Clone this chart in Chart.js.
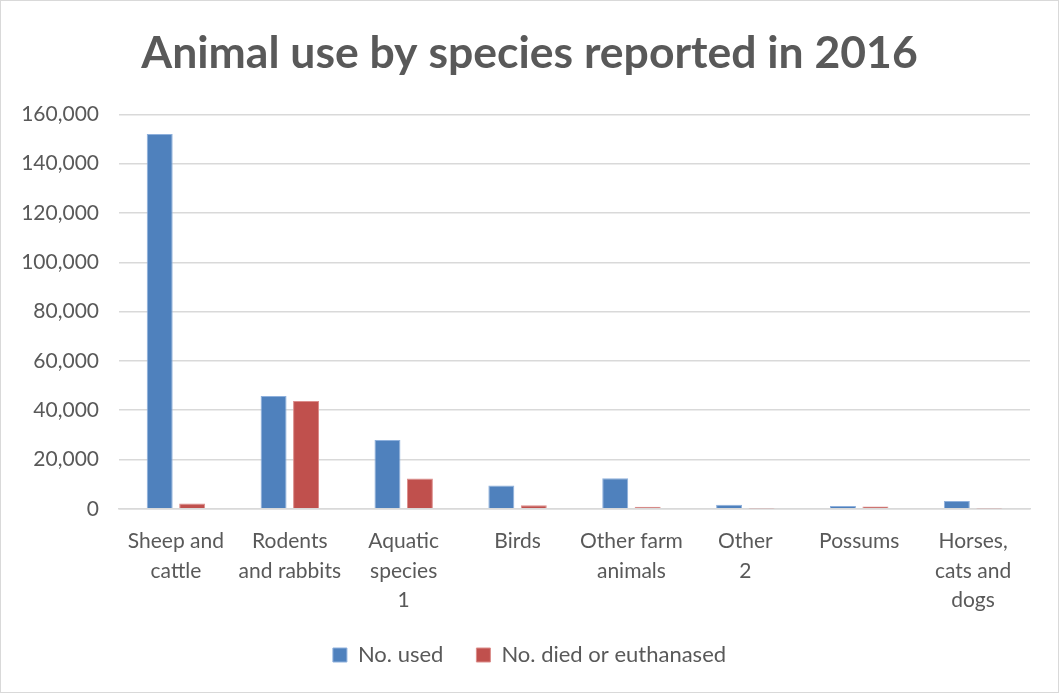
<!DOCTYPE html>
<html>
<head>
<meta charset="utf-8">
<script src="https://cdn.jsdelivr.net/npm/chart.js@4"></script>
<style>
  html, body { margin: 0; padding: 0; background: #fff; }
  #wrap { position: relative; width: 1059px; height: 693px; box-sizing: border-box; border: 1px solid #d9d9d9; }
  canvas { display: block; }
</style>
</head>
<body>
<div id="wrap"><canvas id="c"></canvas></div>
<script>
const categories = [
  ["Sheep and", "cattle"],
  ["Rodents", "and rabbits"],
  ["Aquatic", "species", "1"],
  ["Birds"],
  ["Other farm", "animals"],
  ["Other", "2"],
  ["Possums"],
  ["Horses,", "cats and", "dogs"]
];
const seriesNames = ["No. used", "No. died or euthanased"];
const used = [152000, 45800, 27900, 9500, 12400, 1600, 1100, 3200];
const died = [2200, 43700, 12300, 1400, 800, 150, 900, 150];
const yTicks = { min: 0, max: 160000, step: 20000 };

const FONT = "Lato, 'Open Sans', sans-serif";
const GRAY = "#595959";

// Legend: wide horizontal gap between items without extra vertical space
const LEGEND_PAD = 33, LEGEND_VPAD = 11;
const legendSpacing = {
  id: "legendSpacing",
  afterInit(chart) {
    const lg = chart.legend;
    if (!lg) return;
    const fit = lg.fit.bind(lg);
    lg.fit = function () { fit(); this.height -= (LEGEND_PAD - LEGEND_VPAD); };
  },
  afterLayout(chart) {
    const lg = chart.legend;
    if (!lg) return;
    lg.top -= (LEGEND_PAD - LEGEND_VPAD);
  }
};

new Chart(document.getElementById("c"), {
  type: "bar",
  data: {
    labels: categories,
    datasets: [
      { label: seriesNames[0], data: used, backgroundColor: "#4F81BD", borderColor: "#8EB0DC", borderWidth: 1, categoryPercentage: 0.57, barPercentage: 0.8 },
      { label: seriesNames[1], data: died, backgroundColor: "#C0504D", borderColor: "#DC8D8B", borderWidth: 1, categoryPercentage: 0.57, barPercentage: 0.8 }
    ]
  },
  plugins: [legendSpacing],
  options: {
    responsive: true,
    maintainAspectRatio: false,
    animation: false,
    layout: { padding: { top: 26, right: 6, bottom: 16, left: 6 } },
    plugins: {
      title: {
        display: true,
        text: "Animal use by species reported in 2016",
        color: GRAY,
        font: { family: FONT, size: 44.5, weight: "bold" },
        padding: { top: 0, bottom: 34 }
      },
      legend: {
        position: "bottom",
        labels: {
          color: GRAY,
          font: { family: FONT, size: 22 },
          boxWidth: 14,
          boxHeight: 14,
          padding: LEGEND_PAD
        }
      },
      tooltip: { enabled: false }
    },
    scales: {
      x: {
        grid: { display: false, drawTicks: false },
        border: { display: true, color: "#d9d9d9", width: 1.5 },
        ticks: {
          color: GRAY,
          font: { family: FONT, size: 21, lineHeight: 1.4 },
          maxRotation: 0,
          autoSkip: false,
          padding: 18
        }
      },
      y: {
        min: yTicks.min,
        max: yTicks.max,
        afterFit: s => { s.width = 112; },
        grid: { color: "#d9d9d9", lineWidth: 1.5, drawTicks: false },
        border: { display: false },
        ticks: {
          stepSize: yTicks.step,
          color: GRAY,
          font: { family: FONT, size: 21 },
          padding: 20,
          callback: v => v.toLocaleString("en-US")
        }
      },
      yRightSpace: {
        type: "linear",
        position: "right",
        display: true,
        grid: { display: false, drawTicks: false },
        border: { display: false },
        ticks: { display: false },
        afterFit: s => { s.width = 22; }
      }
    }
  }
});
</script>
</body>
</html>
